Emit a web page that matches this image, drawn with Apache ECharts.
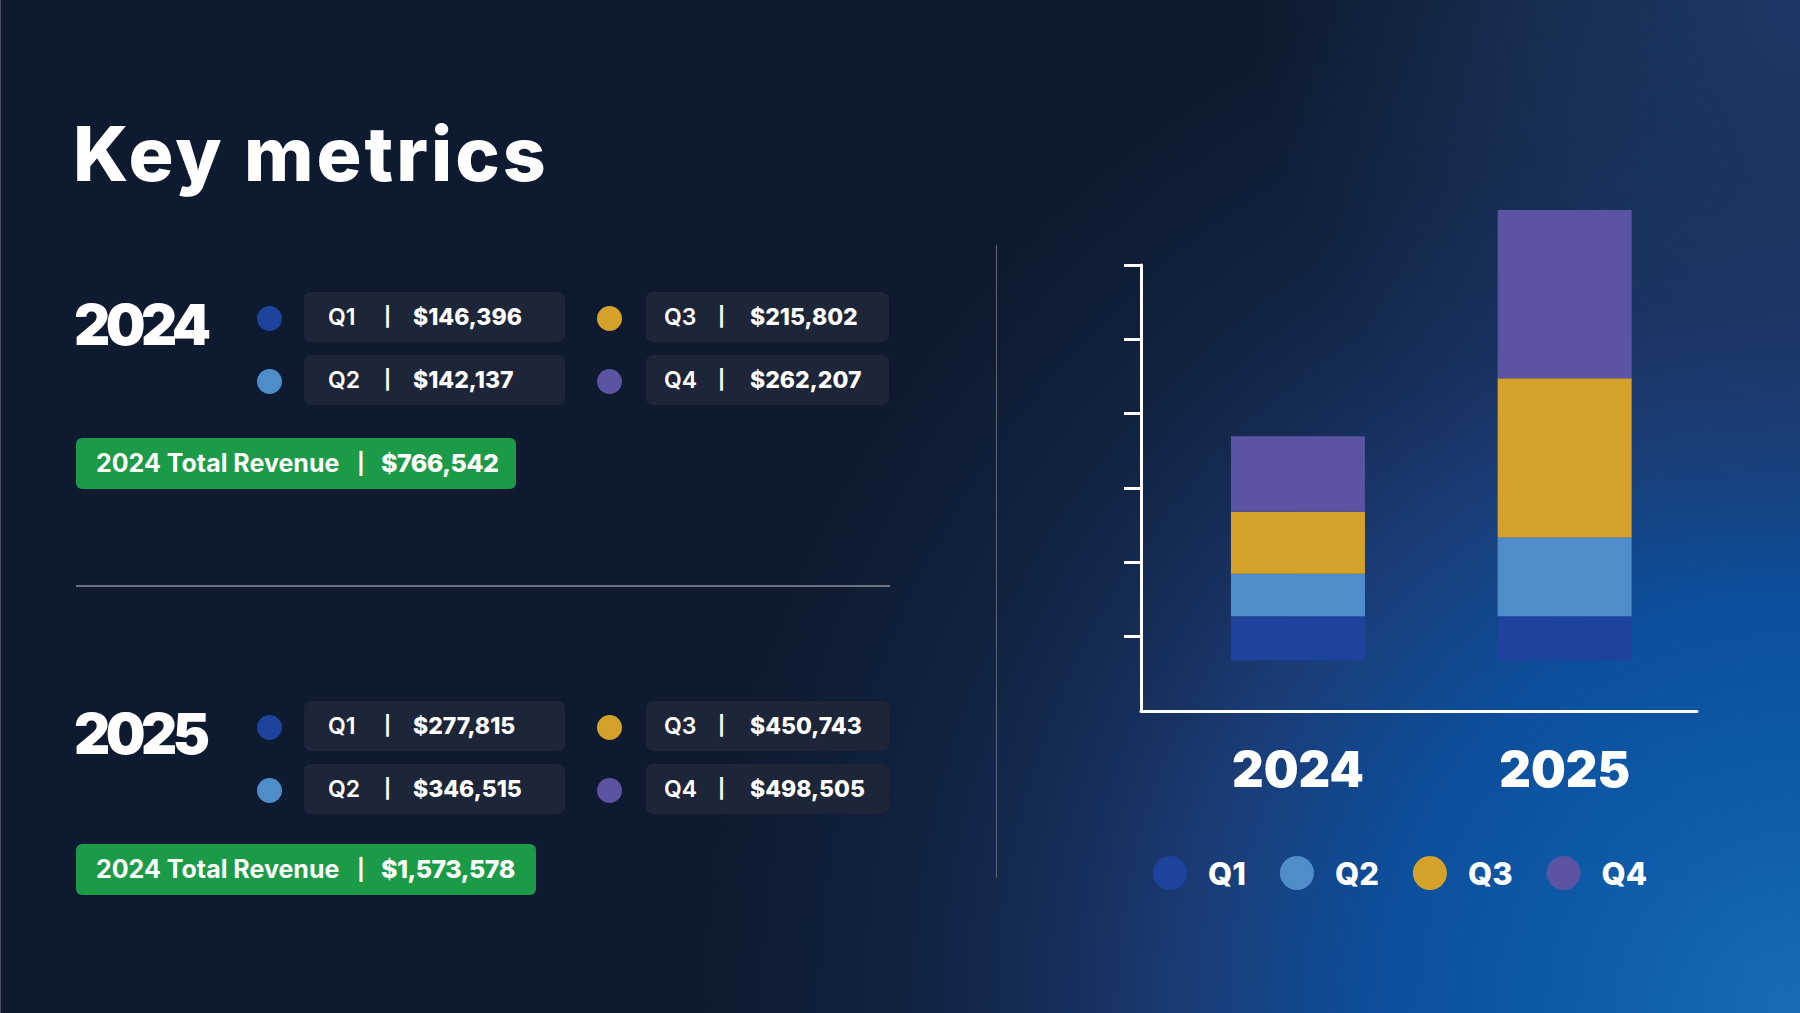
<!DOCTYPE html>
<html>
<head>
<meta charset="utf-8">
<title>Key metrics</title>
<script src="https://cdn.jsdelivr.net/npm/echarts@6/dist/echarts.min.js"></script>
<style>
html,body{margin:0;padding:0;width:1800px;height:1013px;overflow:hidden;}
body{
  position:relative;
  font-family:Inter,"Noto Sans",sans-serif;
  color:#fff;
  background-color:#0e1a2f;
  background-image:
    radial-gradient(ellipse 540px 600px at 100% 0%, rgba(30,58,104,0.95) 0%, rgba(30,58,104,0.6) 45%, rgba(30,58,104,0) 100%),
    radial-gradient(circle 1100px at 100% 100%, #1a6bb5 0%, #0d5aa8 22%, #0c4f9c 38%, #1a3d78 55%, #172f5c 66%, #112240 82%, #0e1a2f 100%);
  border-left:1px solid #4b5263;
  box-sizing:border-box;
}
#chart{position:absolute;left:0;top:0;width:1800px;height:1013px;z-index:1;}
#panel{position:absolute;left:0;top:0;width:1000px;height:1013px;z-index:2;}
.title{position:absolute;left:72px;top:116px;font-size:75px;line-height:1;font-weight:800;letter-spacing:3px;white-space:nowrap;}
.year{position:absolute;left:73px;font-size:56px;line-height:1;font-weight:900;letter-spacing:-4.5px;white-space:nowrap;}
.card{position:absolute;background:#1c2638;border-radius:7px;}
.card span{position:absolute;top:0;white-space:nowrap;font-size:23px;}
.card .q{font-weight:600;}
.card .sep{font-weight:700;font-size:19px;}
.card .v{font-weight:800;}
.dot{position:absolute;width:25px;height:25px;border-radius:50%;}
.pill{position:absolute;background:#1b9a47;border-radius:6px;}
.pill span{position:absolute;top:0;white-space:nowrap;font-size:25px;font-weight:700;}
.pill .sep{font-size:21px;}
.pill .v{font-weight:800;letter-spacing:-0.5px;}
.hline{position:absolute;left:75px;top:585px;width:814px;height:2px;background:#6b7383;}
.vline{position:absolute;left:995px;top:245px;width:1px;height:633px;background:#5c6475;}
</style>
</head>
<body>
<div id="chart"></div>
<div id="panel">
  <div class="title">Key metrics</div>
  <div class="hline"></div>
  <div class="vline"></div>
</div>
<script>
// ---------- data ----------
const categories = ['2024', '2025'];
const quarterNames = ['Q1', 'Q2', 'Q3', 'Q4'];
// stacked bar segment heights as drawn (unlabelled axis, one tick step = 100)
const q1Heights = [59.6, 59.6];
const q2Heights = [57.2, 106.1];
const q3Heights = [83.5, 214.3];
const q4Heights = [101.4, 226.3];
// unlabelled y-axis tick marks
const tickValues = [100, 200, 300, 400, 500, 600];
// quarterly revenue shown in the cards
const revenue2024 = [146396, 142137, 215802, 262207];
const revenue2025 = [277815, 346515, 450743, 498505];
const totalLabels = ['2024 Total Revenue', '2024 Total Revenue'];

// ---------- style ----------
const quarterColors = ['#1e439c', '#4e8dca', '#d4a12a', '#5a54a3'];

// ---------- left panel ----------
const fmt = v => '$' + v.toLocaleString('en-US');
const sections = [
  {year: categories[0], values: revenue2024, total: totalLabels[0], dy: 0, pillDy: 0, pillW: 440},
  {year: categories[1], values: revenue2025, total: totalLabels[1], dy: 409, pillDy: 406, pillW: 460}
];
// card layout: [left, top, width, height, qX, sepX, valX, dotCX, dotCY]
const cardLayout = [
  [303, 292, 261, 50, 24, 80, 109, 268, 318],
  [303, 355, 261, 50, 24, 80, 109, 268, 381],
  [645, 292, 243, 50, 18, 72, 104, 608, 318],
  [645, 355, 243, 50, 18, 72, 104, 608, 381]
];
const panel = document.getElementById('panel');
sections.forEach(sec => {
  const y = document.createElement('div');
  y.className = 'year';
  y.style.top = (297 + sec.dy) + 'px';
  y.textContent = sec.year;
  panel.appendChild(y);
  sec.values.forEach((v, i) => {
    const L = cardLayout[i];
    const dot = document.createElement('div');
    dot.className = 'dot';
    dot.style.left = (L[7] - 12.5) + 'px';
    dot.style.top = (L[8] + sec.dy - 12.5) + 'px';
    dot.style.background = quarterColors[i];
    panel.appendChild(dot);
    const c = document.createElement('div');
    c.className = 'card';
    c.style.left = L[0] + 'px';
    c.style.top = (L[1] + sec.dy) + 'px';
    c.style.width = L[2] + 'px';
    c.style.height = L[3] + 'px';
    c.innerHTML =
      `<span class="q" style="left:${L[4]}px;line-height:${L[3]}px">${quarterNames[i]}</span>` +
      `<span class="sep" style="left:${L[5]}px;line-height:${L[3]}px">|</span>` +
      `<span class="v" style="left:${L[6]}px;line-height:${L[3]}px">${fmt(v)}</span>`;
    panel.appendChild(c);
  });
  const total = sec.values.reduce((a, b) => a + b, 0);
  const p = document.createElement('div');
  p.className = 'pill';
  p.style.left = '75px';
  p.style.top = (438 + sec.pillDy) + 'px';
  p.style.width = sec.pillW + 'px';
  p.style.height = '51px';
  p.innerHTML =
    `<span style="left:20px;line-height:51px">${sec.total}</span>` +
    `<span class="sep" style="left:281px;line-height:51px">|</span>` +
    `<span class="v" style="left:305px;line-height:51px">${fmt(total)}</span>`;
  panel.appendChild(p);
});

// ---------- chart ----------
const chart = echarts.init(document.getElementById('chart'), null, {renderer: 'svg'});
const segData = [q1Heights, q2Heights, q3Heights, q4Heights];
chart.setOption({
  backgroundColor: 'transparent',
  animation: false,
  textStyle: {fontFamily: 'Inter, "Noto Sans", sans-serif'},
  grid: [
    {left: 1140, top: 265, width: 556, height: 446},
    {left: 1163.6, top: 265, width: 533.4, height: 446}
  ],
  xAxis: [
    {
      gridIndex: 0, type: 'category', data: categories,
      axisLine: {show: true, onZero: false, lineStyle: {color: '#ffffff', width: 3}},
      axisTick: {show: false}, axisLabel: {show: false}, splitLine: {show: false}
    },
    {
      gridIndex: 1, type: 'category', data: categories,
      axisLine: {show: false}, axisTick: {show: false}, splitLine: {show: false},
      axisLabel: {color: '#ffffff', fontSize: 49, fontWeight: 900, margin: 34}
    }
  ],
  yAxis: [
    {
      gridIndex: 0, type: 'value', min: 0, max: 600,
      axisLine: {show: true, onZero: false, lineStyle: {color: '#ffffff', width: 3}},
      axisTick: {show: true, customValues: tickValues, length: 17, lineStyle: {color: '#ffffff', width: 3}},
      axisLabel: {show: false}, splitLine: {show: false}
    },
    {
      gridIndex: 1, type: 'value', min: -67.8, max: 532.2, show: false,
      splitLine: {show: false}
    }
  ],
  legend: {
    left: 1147, top: 851,
    itemWidth: 34, itemHeight: 34, itemGap: 34, icon: 'circle',
    selectedMode: false,
    data: quarterNames,
    textStyle: {color: '#ffffff', fontSize: 31, fontWeight: 800, padding: [0, 0, 0, 16]}
  },
  series: segData.map((d, i) => ({
    name: quarterNames[i], type: 'bar', stack: 'total',
    xAxisIndex: 1, yAxisIndex: 1,
    data: d, barWidth: 134, clip: false,
    itemStyle: {color: quarterColors[i]},
    emphasis: {disabled: true}
  }))
});
</script>
</body>
</html>
